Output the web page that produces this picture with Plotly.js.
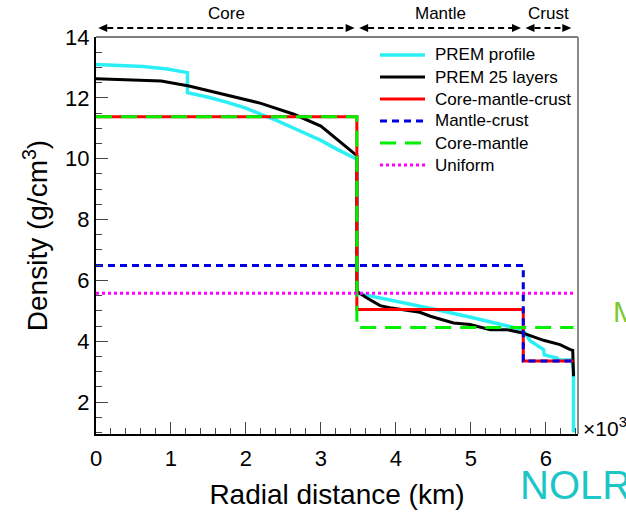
<!DOCTYPE html>
<html>
<head>
<meta charset="utf-8">
<script src="https://cdn.plot.ly/plotly-3.0.1.min.js"></script>
<style>
  html, body { margin: 0; padding: 0; background: #fff; }
  #graph { width: 626px; height: 518px; }
</style>
</head>
<body>
<div id="graph"></div>
<script>
/* PREM density profile, x in 10^3 km */
const premR = [0, 0.3, 0.63, 0.95, 1.22, 1.22, 1.5, 1.74, 2.0, 2.2, 2.4, 2.64, 2.8, 3.0, 3.2, 3.48,
               3.48, 3.8, 4.0, 4.5, 5.0, 5.3, 5.6, 5.69, 5.79, 5.97, 5.98, 6.15, 6.16, 6.35, 6.37, 6.37];
const premRho = [13.1, 13.08, 13.03, 12.95, 12.83, 12.17, 12.02, 11.86, 11.66, 11.46, 11.27, 11.0, 10.83, 10.6, 10.33, 9.98,
                 5.58, 5.42, 5.31, 5.06, 4.79, 4.62, 4.44, 4.38, 4.02, 3.73, 3.55, 3.45, 3.38, 3.38, 3.0, 1.0];

/* PREM 25 layers */
const layersR = [0, 0.87, 1.24, 1.76, 2.2, 2.64, 3.0, 3.48, 3.48, 3.61, 3.79, 3.92, 4.32, 4.46, 4.77, 4.99,
                 5.26, 5.48, 5.61, 5.68, 5.97, 6.19, 6.32, 6.36, 6.37];
const layersRho = [12.63, 12.55, 12.39, 12.09, 11.82, 11.46, 11.07, 10.1, 5.64, 5.43, 5.17, 5.1, 4.95, 4.82, 4.6, 4.55,
                   4.38, 4.38, 4.33, 4.28, 4.03, 3.89, 3.73, 3.7, 2.85];

/* simplified models */
const cmcR = [0, 3.48, 3.48, 5.7, 5.7, 6.37];
const cmcRho = [11.38, 11.38, 5.04, 5.04, 3.35, 3.35];
const mcR = [0, 5.7, 5.7, 6.37];
const mcRho = [6.49, 6.49, 3.35, 3.35];
const cmR = [0, 3.48, 3.48, 6.37];
const cmRho = [11.38, 11.38, 4.45, 4.45];
const uniR = [0, 6.37];
const uniRho = [5.58, 5.58];

/* regions marked above the plot */
const regionNames = ["Core", "Mantle", "Crust"];
const regionEdges = [0, 3.48, 5.7, 6.371];

const data = [
    { x: premR, y: premRho, name: "PREM profile", mode: "lines",
      line: { color: "#2BEFF5", width: 3.5 } },
    { x: layersR, y: layersRho, name: "PREM 25 layers", mode: "lines",
      line: { color: "#000000", width: 3 } },
    { x: cmcR, y: cmcRho, name: "Core-mantle-crust", mode: "lines",
      line: { color: "#FF0000", width: 3 } },
    { x: mcR, y: mcRho, name: "Mantle-crust", mode: "lines",
      line: { color: "#0000E6", width: 3, dash: "7px,5px" } },
    { x: cmR, y: cmRho, name: "Core-mantle", mode: "lines",
      line: { color: "#00F000", width: 3, dash: "16px,9px" } },
    { x: uniR, y: uniRho, name: "Uniform", mode: "lines",
      line: { color: "#FF00FF", width: 3, dash: "3px,3px" } },
];

/* plot box in pixels, used to place the hand-made legend */
const M = { l: 96, r: 48, t: 37, b: 84 };
const plotW = 626 - M.l - M.r, plotH = 518 - M.t - M.b;
const px2x = (px) => (px - M.l) / plotW;
const px2y = (py) => (518 - M.b - py) / plotH;

const shapes = [];
const annotations = [];

/* dashed double arrows over each region */
const arrowY = 1 + 9 / plotH, tipGap = 0.03, headLen = 0.12, headH = 4 / plotH;
for (let i = 0; i < regionNames.length; i++) {
    const a = regionEdges[i] + tipGap;
    const b = regionEdges[i + 1] - tipGap;
    shapes.push({ type: "line", xref: "x", yref: "paper", x0: a + headLen, x1: b - headLen,
                  y0: arrowY, y1: arrowY, line: { color: "#000", width: 2, dash: "6px,4px" } });
    shapes.push({ type: "path", xref: "x", yref: "paper", fillcolor: "#000", line: { width: 0 },
                  path: `M ${a} ${arrowY} L ${a + headLen} ${arrowY + headH} L ${a + headLen} ${arrowY - headH} Z` });
    shapes.push({ type: "path", xref: "x", yref: "paper", fillcolor: "#000", line: { width: 0 },
                  path: `M ${b} ${arrowY} L ${b - headLen} ${arrowY + headH} L ${b - headLen} ${arrowY - headH} Z` });
    annotations.push({ text: regionNames[i], xref: "x", yref: "paper",
                       x: (regionEdges[i] + regionEdges[i + 1]) / 2, y: 1 + 23 / plotH,
                       yanchor: "middle", showarrow: false, font: { size: 17, color: "#000" } });
}

/* legend built from the traces */
data.forEach((tr, i) => {
    const yy = px2y(55 + 22 * i);
    shapes.push({ type: "line", xref: "paper", yref: "paper", x0: px2x(380), x1: px2x(425),
                  y0: yy, y1: yy, line: tr.line });
    annotations.push({ text: tr.name, xref: "paper", yref: "paper", x: px2x(433), y: yy,
                       xanchor: "left", yanchor: "middle", showarrow: false,
                       font: { size: 17, color: "#000" } });
});

/* thin top frame and grey right frame */
shapes.push({ type: "line", xref: "paper", yref: "paper", x0: 0, x1: 1, y0: 1, y1: 1,
              line: { color: "#000", width: 1 } });
shapes.push({ type: "line", xref: "paper", yref: "paper", x0: 1, x1: 1, y0: 0, y1: 1,
              line: { color: "#8a8a8a", width: 2 } });

annotations.push({ text: "×10<sup>3</sup>", xref: "paper", yref: "paper", x: 1, y: px2y(427),
                   xanchor: "left", yanchor: "middle", xshift: 3, showarrow: false,
                   font: { size: 21, color: "#000" } });
annotations.push({ text: "M", xref: "paper", yref: "paper", x: px2x(611), y: px2y(312),
                   xanchor: "left", yanchor: "middle", showarrow: false,
                   font: { size: 30, color: "#7DC831" } });
annotations.push({ text: "NOLR", xref: "paper", yref: "paper", x: px2x(518), y: px2y(485),
                   xanchor: "left", yanchor: "middle", showarrow: false,
                   font: { size: 40, color: "#1DC6C6" } });

const layout = {
    width: 626,
    height: 518,
    margin: M,
    paper_bgcolor: "#fff",
    plot_bgcolor: "#fff",
    font: { family: "Liberation Sans, Arial, sans-serif", color: "#000" },
    showlegend: false,
    xaxis: {
        range: [0, 6.43], tick0: 0, dtick: 1, ticks: "inside", ticklen: 12, tickwidth: 1,
        minor: { dtick: 0.2, ticks: "inside", ticklen: 6, tickwidth: 1 },
        showgrid: false, zeroline: false, showline: true, linecolor: "#000", linewidth: 2,
        tickfont: { size: 22 }, ticklabelstandoff: 4,
        title: { text: "Radial distance (km)", font: { size: 28 }, standoff: 14 },
    },
    yaxis: {
        range: [0.95, 14], tick0: 0, dtick: 2, ticks: "inside", ticklen: 12, tickwidth: 1,
        minor: { dtick: 0.5, ticks: "inside", ticklen: 6, tickwidth: 1 },
        showgrid: false, zeroline: false, showline: true, linecolor: "#000", linewidth: 2,
        tickfont: { size: 22 },
        title: { text: "Density (g/cm<sup>3</sup>)", font: { size: 28 }, standoff: 9 },
    },
    shapes: shapes,
    annotations: annotations,
};

Plotly.newPlot("graph", data, layout, { staticPlot: true });
</script>
</body>
</html>
